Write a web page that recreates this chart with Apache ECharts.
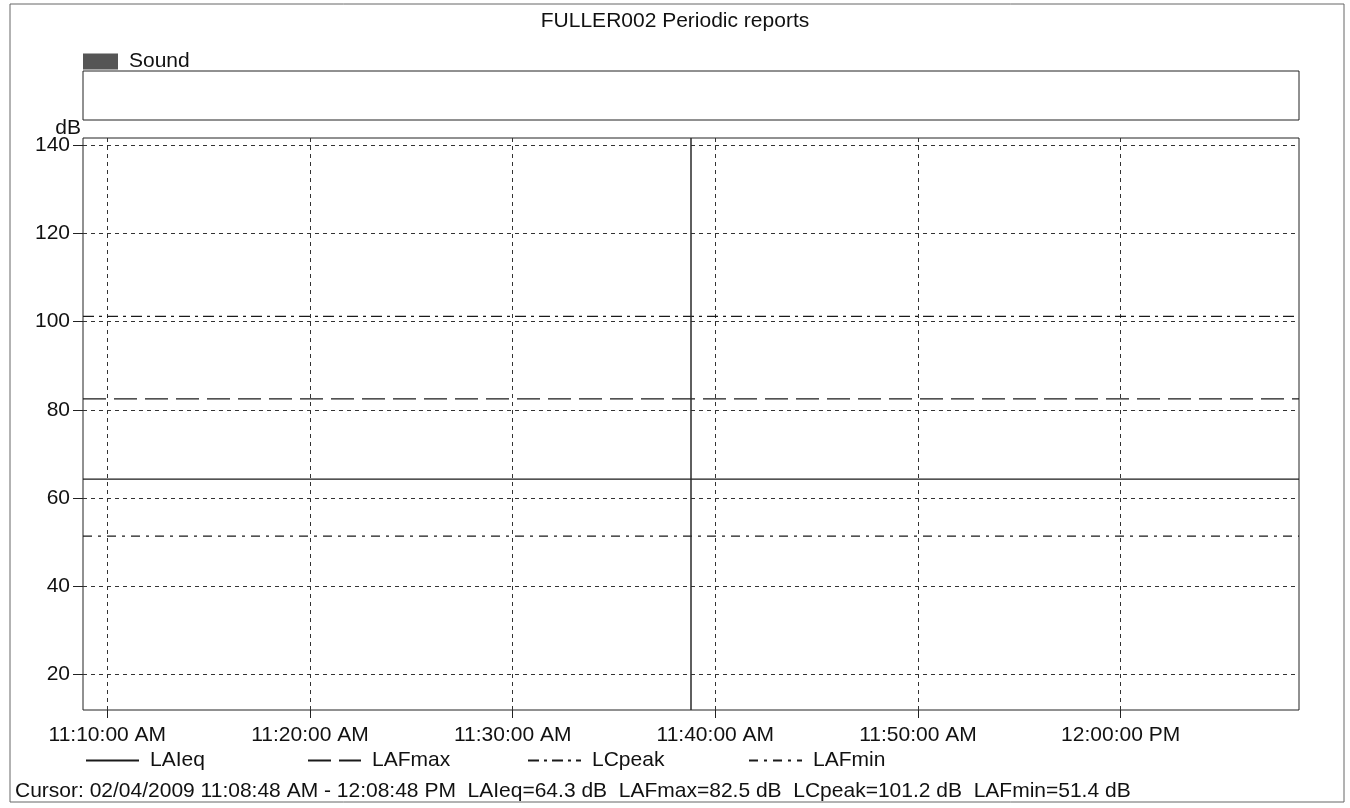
<!DOCTYPE html>
<html><head><meta charset="utf-8">
<script src="https://cdn.jsdelivr.net/npm/echarts@6/dist/echarts.min.js"></script>
<style>html,body{margin:0;padding:0;background:#fff}#c{width:1350px;height:808px}</style>
</head><body><div id="c"></div>
<script>
// ---- data ----
const chartTitle = 'FULLER002 Periodic reports';
const bandName = 'Sound';
const startTime = '2009-02-04 11:08:48';
const endTime = '2009-02-04 12:08:48';
const cursorTime = '2009-02-04 11:38:48';
const periodTimes = [startTime, endTime];
const seriesNames = ['LAIeq', 'LAFmax', 'LCpeak', 'LAFmin'];
const LAIeq = [64.3, 64.3];
const LAFmax = [82.5, 82.5];
const LCpeak = [101.2, 101.2];
const LAFmin = [51.4, 51.4];
const yTicks = [20, 40, 60, 80, 100, 120, 140];
const xTicks = ['2009-02-04 11:10:00', '2009-02-04 11:20:00', '2009-02-04 11:30:00',
                '2009-02-04 11:40:00', '2009-02-04 11:50:00', '2009-02-04 12:00:00'];
const yMin = 12, yMax = 141.6;
const unit = 'dB';

// ---- layout / helpers ----
const FONT = '"Liberation Sans", Arial, sans-serif';
const FS = 21;
const legendLefts = [85, 307, 527, 748];
const t = s => echarts.time.parse(s).getTime();
const pad = n => (n < 10 ? '0' : '') + n;
function clock(v) {
  const d = new Date(v);
  let h = d.getHours();
  const ap = h >= 12 ? 'PM' : 'AM';
  h = h % 12; if (h === 0) h = 12;
  return h + ':' + pad(d.getMinutes()) + ':' + pad(d.getSeconds()) + ' ' + ap;
}
function dateStr(v) {
  const d = new Date(v);
  return pad(d.getMonth() + 1) + '/' + pad(d.getDate()) + '/' + d.getFullYear();
}
const values = {LAIeq, LAFmax, LCpeak, LAFmin};
const styles = {
  LAIeq: {type: 'solid', width: 1.4},
  LAFmax: {type: [23, 8], width: 1.4},
  LCpeak: {type: [11, 5, 3, 5], width: 1.3},
  LAFmin: {type: [9, 6, 3, 6], width: 1.3}
};
const cursorText = 'Cursor: ' + dateStr(t(startTime)) + ' ' + clock(t(startTime)) + ' - ' + clock(t(endTime)) +
  seriesNames.map(n => '  ' + n + '=' + values[n][0].toFixed(1) + ' ' + unit).join('');

const lineSeries = seriesNames.map((n, i) => ({
  name: n, type: 'line', xAxisIndex: 1, yAxisIndex: 1,
  symbol: 'none', silent: true, animation: false,
  data: periodTimes.map((tm, k) => [t(tm), values[n][k]]),
  lineStyle: Object.assign({color: '#1a1a1a'}, styles[n]),
  itemStyle: {color: '#1a1a1a'},
  markLine: i === 0 ? {
    silent: true, symbol: ['none', 'none'], label: {show: false},
    lineStyle: {color: '#2a2a2a', type: 'solid', width: 1.5},
    data: [{xAxis: t(cursorTime)}]
  } : undefined
}));

const lineLegends = seriesNames.map((n, i) => ({
  data: [n], left: legendLefts[i], top: 750, padding: 0, itemWidth: 53, itemHeight: 14,
  itemStyle: {opacity: 0},
  textStyle: {fontFamily: FONT, fontSize: FS, color: '#111', padding: [0, 0, 0, 6]}
}));

const chart = echarts.init(document.getElementById('c'));
chart.setOption({
  animation: false,
  textStyle: {fontFamily: FONT},
  title: [
    {text: chartTitle, left: 'center', top: 6,
     textStyle: {fontFamily: FONT, fontSize: FS, fontWeight: 'normal', color: '#111'}},
    {text: cursorText, left: 10, top: 776,
     textStyle: {fontFamily: FONT, fontSize: FS, fontWeight: 'normal', color: '#111'}}
  ],
  graphic: [{type: 'rect', shape: {x: 10, y: 4, width: 1334, height: 798},
             style: {fill: 'none', stroke: '#666', lineWidth: 1}, silent: true}],
  legend: [
    {data: [bandName], left: 83, top: 51, padding: 0, icon: 'rect', itemWidth: 35, itemHeight: 16,
     itemStyle: {color: '#555'},
     textStyle: {fontFamily: FONT, fontSize: FS, color: '#111', padding: [0, 0, 0, 6]}}
  ].concat(lineLegends),
  grid: [
    {left: 83, right: 51, top: 71, height: 49, show: true, borderColor: '#222', borderWidth: 1},
    {left: 83, right: 51, top: 138, bottom: 98, show: true, borderColor: '#222', borderWidth: 1}
  ],
  xAxis: [
    {gridIndex: 0, type: 'category', data: [], show: false},
    {gridIndex: 1, type: 'value', min: t(startTime), max: t(endTime),
     axisLine: {show: false},
     axisTick: {show: true, length: 8, lineStyle: {color: '#222'}, customValues: xTicks.map(t)},
     axisLabel: {customValues: xTicks.map(t), formatter: v => clock(v), fontFamily: FONT,
                 fontSize: FS, color: '#111', margin: 15, hideOverlap: false},
     splitLine: {show: true, lineStyle: {color: '#333', type: [4, 4], width: 1}}}
  ],
  yAxis: [
    {gridIndex: 0, type: 'value', show: false},
    {gridIndex: 1, type: 'value', min: yMin, max: yMax, name: unit, nameLocation: 'end', nameGap: 10,
     nameMoveOverlap: false,
     nameTextStyle: {fontFamily: FONT, fontSize: FS, color: '#111', align: 'right',
                     verticalAlign: 'middle', padding: [0, 2, 0, 0]},
     axisLine: {show: false},
     axisTick: {show: true, length: 10, lineStyle: {color: '#222'}, customValues: yTicks},
     axisLabel: {customValues: yTicks, fontFamily: FONT, fontSize: FS, color: '#111', margin: 13},
     splitLine: {show: true, lineStyle: {color: '#333', type: [4, 4], width: 1}}}
  ],
  series: [{name: bandName, type: 'bar', xAxisIndex: 0, yAxisIndex: 0, data: [], itemStyle: {color: '#555'}}]
    .concat(lineSeries)
});
</script></body></html>
